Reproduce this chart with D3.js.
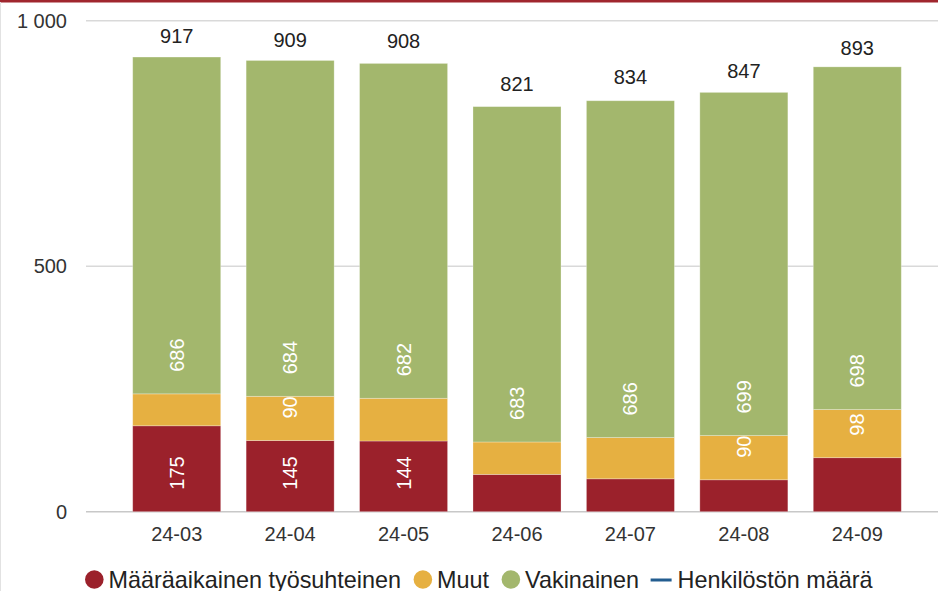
<!DOCTYPE html>
<html>
<head>
<meta charset="utf-8">
<script src="https://cdn.jsdelivr.net/npm/d3@7"></script>
<style>
  body { margin: 0; background: #fff; }
  svg text { font-family: "Liberation Sans", Arial, sans-serif; }
</style>
</head>
<body>
<div id="chart"></div>
<script>
// --- DATA ---
const months   = ['24-03', '24-04', '24-05', '24-06', '24-07', '24-08', '24-09'];
const maaraaik = [175, 145, 144, 76, 67, 65, 110];
const muut     = [65, 90, 87, 66, 84, 90, 98];
const vakin    = [686, 684, 682, 683, 686, 699, 698];
const henkilosto = [917, 909, 908, 821, 834, 847, 893];
const yTicks   = [0, 500, 1000];

const seriesNames  = ['Määräaikainen työsuhteinen', 'Muut', 'Vakinainen'];
const seriesColors = ['#9b212b', '#e6b041', '#a3b76d'];
const lineName  = 'Henkilöstön määrä';
const lineColor = '#235d90';

// --- SETUP ---
const width = 938, height = 591;
const svg = d3.select('#chart').append('svg')
  .attr('width', width)
  .attr('height', height);

// frame bits
svg.append('rect').attr('x', 0).attr('y', 0).attr('width', width).attr('height', 2.5)
  .attr('fill', '#a0262e');
svg.append('line').attr('x1', 0.5).attr('x2', 0.5).attr('y1', 2).attr('y2', height)
  .attr('stroke', '#e2e2e2').attr('stroke-width', 1);

const x = d3.scaleBand()
  .domain(months)
  .range([120, 914])
  .paddingInner(0.224)
  .paddingOuter(0.112);

const y = d3.scaleLinear()
  .domain([0, 1000])
  .range([511.7, 20.7]);

// gridlines
svg.append('g')
  .selectAll('line')
  .data(yTicks)
  .enter().append('line')
    .attr('x1', 86).attr('x2', width)
    .attr('y1', d => y(d)).attr('y2', d => y(d))
    .attr('stroke', d => d === 0 ? '#c8c8c8' : '#d9d9d9')
    .attr('stroke-width', 1.5);

// y labels
svg.append('g')
  .selectAll('text')
  .data(yTicks)
  .enter().append('text')
    .attr('x', 67)
    .attr('y', d => y(d))
    .attr('dy', '0.35em')
    .attr('text-anchor', 'end')
    .attr('font-size', 20)
    .attr('fill', '#333')
    .text(d => d3.format(',')(d).replace(',', ' '));

// x labels
svg.append('g')
  .selectAll('text')
  .data(months)
  .enter().append('text')
    .attr('x', d => x(d) + x.bandwidth() / 2)
    .attr('y', 541)
    .attr('text-anchor', 'middle')
    .attr('font-size', 20)
    .attr('fill', '#333')
    .text(d => d);

// --- STACKED BARS ---
const rows = months.map((m, i) => ({ month: m, a: maaraaik[i], b: muut[i], c: vakin[i] }));
const stack = d3.stack().keys(['a', 'b', 'c'])(rows);

const layers = svg.append('g')
  .selectAll('g')
  .data(stack)
  .enter().append('g')
    .attr('fill', (d, i) => seriesColors[i]);

layers.selectAll('rect')
  .data(d => d)
  .enter().append('rect')
    .attr('x', d => x(d.data.month))
    .attr('y', d => y(d[1]))
    .attr('width', x.bandwidth())
    .attr('height', d => y(d[0]) - y(d[1]))
    .attr('stroke', 'rgba(255,255,255,0.35)')
    .attr('stroke-width', 0.8);

// inner labels, rotated, anchored at the segment base; hidden when they don't fit
layers.each(function() {
  d3.select(this).selectAll('text')
    .data(d => d)
    .enter().append('text')
      .attr('transform', d => `translate(${x(d.data.month) + x.bandwidth() / 2},${y(d[0]) - 22}) rotate(-90)`)
      .attr('dy', '0.35em')
      .attr('text-anchor', 'start')
      .attr('font-size', 20)
      .attr('fill', '#fff')
      .text(d => d[1] - d[0])
      .each(function(d) {
        const segH = y(d[0]) - y(d[1]);
        const len = String(d[1] - d[0]).length * 11.1;  // ~digit advance at 20px
        if (len + 21.5 > segH) d3.select(this).remove();
      });
});

// total labels (line series, line itself not visible)
svg.append('g')
  .selectAll('text')
  .data(henkilosto)
  .enter().append('text')
    .attr('x', (d, i) => x(months[i]) + x.bandwidth() / 2)
    .attr('y', d => y(d) - 18)
    .attr('text-anchor', 'middle')
    .attr('font-size', 20)
    .attr('fill', '#222')
    .text(d => d);

// --- LEGEND ---
const legend = svg.append('g').attr('transform', 'translate(0,579.5)');
let lx = 85;
seriesNames.forEach((name, i) => {
  legend.append('circle')
    .attr('cx', lx + 9.3).attr('cy', 0).attr('r', 9.3)
    .attr('fill', seriesColors[i]);
  const t = legend.append('text')
    .attr('x', lx + 23.5).attr('y', 0).attr('dy', '0.35em')
    .attr('font-size', 23.4).attr('fill', '#222')
    .text(name);
  lx += 23.5 + t.node().getComputedTextLength() + 12.5;
});
legend.append('line')
  .attr('x1', lx - 1).attr('x2', lx + 20).attr('y1', 0.5).attr('y2', 0.5)
  .attr('stroke', lineColor).attr('stroke-width', 3);
legend.append('text')
  .attr('x', lx + 26).attr('y', 0).attr('dy', '0.35em')
  .attr('font-size', 23.4).attr('fill', '#222')
  .text(lineName);
</script>
</body>
</html>
